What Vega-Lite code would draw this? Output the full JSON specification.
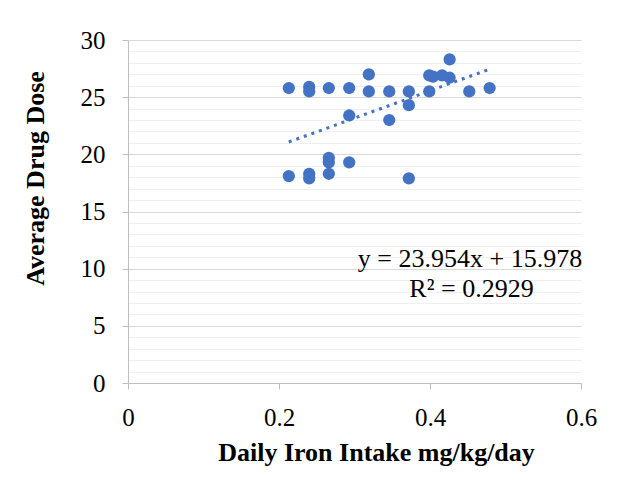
{
  "$schema": "https://vega.github.io/schema/vega-lite/v6.json",
  "width": 453,
  "height": 343,
  "autosize": {"type": "none"},
  "padding": {"left": 128, "top": 40, "right": 43, "bottom": 110},
  "background": "white",
  "config": {
    "view": {"stroke": null},
    "font": "Liberation Serif",
    "axis": {"labelFont": "Liberation Serif", "titleFont": "Liberation Serif", "labelColor": "#000000", "titleColor": "#000000"}
  },
  "datasets": {
    "pts": [
      {"iron": 0.213, "dose": 25.8},
      {"iron": 0.240, "dose": 25.9},
      {"iron": 0.240, "dose": 25.5},
      {"iron": 0.266, "dose": 25.8},
      {"iron": 0.293, "dose": 25.8},
      {"iron": 0.319, "dose": 27.0},
      {"iron": 0.319, "dose": 25.5},
      {"iron": 0.346, "dose": 25.5},
      {"iron": 0.372, "dose": 25.5},
      {"iron": 0.372, "dose": 24.3},
      {"iron": 0.399, "dose": 26.9},
      {"iron": 0.399, "dose": 25.5},
      {"iron": 0.404, "dose": 26.8},
      {"iron": 0.416, "dose": 26.9},
      {"iron": 0.426, "dose": 26.7},
      {"iron": 0.426, "dose": 28.3},
      {"iron": 0.452, "dose": 25.5},
      {"iron": 0.479, "dose": 25.8},
      {"iron": 0.293, "dose": 23.4},
      {"iron": 0.346, "dose": 23.0},
      {"iron": 0.213, "dose": 18.1},
      {"iron": 0.240, "dose": 18.3},
      {"iron": 0.240, "dose": 17.9},
      {"iron": 0.266, "dose": 19.7},
      {"iron": 0.266, "dose": 19.3},
      {"iron": 0.266, "dose": 18.3},
      {"iron": 0.293, "dose": 19.3},
      {"iron": 0.372, "dose": 17.9}
    ],
    "trend": [
      {"iron": 0.213, "dose": 21.08},
      {"iron": 0.479, "dose": 27.45}
    ],
    "labels": [
      {"iron": 0.453, "dose": 10.15, "text": "y = 23.954x + 15.978"},
      {"iron": 0.455, "dose": 7.5, "text": "R² = 0.2929"}
    ]
  },
  "layer": [
    {
      "data": {"name": "pts"},
      "mark": {"type": "point", "filled": true, "opacity": 0},
      "encoding": {
        "x": {"field": "iron", "type": "quantitative", "scale": {"domain": [0, 0.6], "nice": false}},
        "y": {"field": "dose", "type": "quantitative", "scale": {"domain": [0, 30], "nice": false},
          "axis": {"values": [1,2,3,4,6,7,8,9,11,12,13,14,16,17,18,19,21,22,23,24,26,27,28,29], "grid": true, "gridColor": "#efefef", "gridWidth": 1, "labels": false, "ticks": false, "domain": false, "title": null, "orient": "left"}}
      }
    },
    {
      "data": {"name": "pts"},
      "mark": {"type": "circle", "size": 150, "color": "#4472C4", "opacity": 1},
      "encoding": {
        "x": {"field": "iron", "type": "quantitative",
          "axis": {"values": [0, 0.2, 0.4, 0.6], "format": "~g", "grid": false, "domainColor": "#bfbfbf", "tickColor": "#bfbfbf", "tickSize": 6, "labelFontSize": 25, "labelBaseline": "alphabetic", "labelPadding": 36, "title": "Daily Iron Intake mg/kg/day", "titleFontSize": 26, "titleFontWeight": "bold", "titleBaseline": "alphabetic", "titleX": 248, "titleY": 77, "labelFlush": false}},
        "y": {"field": "dose", "type": "quantitative",
          "axis": {"values": [0, 5, 10, 15, 20, 25, 30], "grid": true, "gridColor": "#d9d9d9", "domainColor": "#bfbfbf", "tickColor": "#bfbfbf", "tickSize": 6, "labelFontSize": 25, "labelPadding": 17, "title": "Average Drug Dose", "titleFontSize": 26, "titleFontWeight": "bold", "titleX": -80, "titleY": 138, "orient": "left"}}
      }
    },
    {
      "data": {"name": "trend"},
      "mark": {"type": "line", "color": "#4472C4", "strokeWidth": 3, "strokeDash": [3, 5]},
      "encoding": {
        "x": {"field": "iron", "type": "quantitative"},
        "y": {"field": "dose", "type": "quantitative", "axis": null}
      }
    },
    {
      "data": {"name": "labels"},
      "mark": {"type": "text", "font": "Liberation Serif", "fontSize": 26, "color": "#000000", "align": "center", "baseline": "alphabetic"},
      "encoding": {
        "x": {"field": "iron", "type": "quantitative"},
        "y": {"field": "dose", "type": "quantitative", "axis": null},
        "text": {"field": "text"}
      }
    }
  ],
  "resolve": {"axis": {"y": "independent", "x": "shared"}}
}
